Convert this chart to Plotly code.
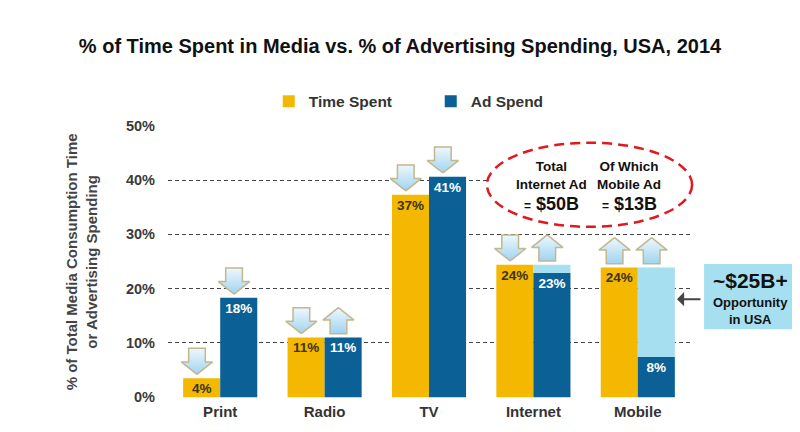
import plotly.graph_objects as go

# --- data ---
media = ["Print", "Radio", "TV", "Internet", "Mobile"]
time_spent = [3.5, 11.0, 37.3, 24.4, 23.9]
time_labels = ["4%", "11%", "37%", "24%", "24%"]
ad_spend = [18.3, 11.0, 40.6, 22.9, 7.4]
ad_labels = ["18%", "11%", "41%", "23%", "8%"]
ad_gap = [0, 0, 0, 1.5, 16.5]  # light blue "opportunity" on top of ad spend
time_dir = ["down", "down", "down", "down", "up"]
ad_dir = ["down", "up", "down", "up", "up"]
y_ticks = [0, 10, 20, 30, 40, 50]

YELLOW = "#f5b800"
BLUE = "#0b6196"
LIGHT = "#a6dff0"
FONT = "Liberation Sans"
BAR_W = 0.355

xs = list(range(len(media)))

fig = go.Figure()

fig.add_trace(go.Bar(
    x=xs, y=time_spent, name="Time Spent", width=BAR_W, offset=-BAR_W,
    marker=dict(color=YELLOW, line=dict(width=0)),
    text=time_labels, textposition="inside", insidetextanchor="end",
    textfont=dict(family=FONT, size=13.5, color="#3b3316", weight="bold"),
    hoverinfo="skip",
))
fig.add_trace(go.Bar(
    x=xs, y=ad_spend, name="Ad Spend", width=BAR_W, offset=0,
    marker=dict(color=BLUE, line=dict(width=0)),
    text=ad_labels, textposition="inside", insidetextanchor="end",
    textfont=dict(family=FONT, size=13.5, color="white", weight="bold"),
    hoverinfo="skip",
))
fig.add_trace(go.Bar(
    x=xs, y=ad_gap, base=ad_spend, width=BAR_W, offset=0,
    marker=dict(color=LIGHT, line=dict(width=0)),
    showlegend=False, hoverinfo="skip",
))


def arrow(cx, v, direction):
    # block arrow drawn just above a bar top (data units)
    gap, h, hh, hw, sw = 0.7, 4.8, 2.3, 0.15, 0.08
    b = v + gap
    xs_ = [cx, cx + hw, cx + sw, cx + sw, cx - sw, cx - sw, cx - hw, cx]
    if direction == "down":
        ys_ = [b, b + hh, b + hh, b + h, b + h, b + hh, b + hh, b]
    else:
        ys_ = [b + h, b + h - hh, b + h - hh, b, b, b + h - hh, b + h - hh, b + h]
    return go.Scatter(
        x=xs_, y=ys_, mode="lines", fill="toself",
        fillgradient=dict(type="vertical",
                          colorscale=[[0, "#9fd4f0"], [1, "#eef8fd"]]),
        line=dict(color="#c2b78e", width=1.5),
        showlegend=False, hoverinfo="skip",
    )


for i in xs:
    fig.add_trace(arrow(i - BAR_W / 2 - 0.045, time_spent[i], time_dir[i]))
    fig.add_trace(arrow(i + BAR_W / 2 - 0.045, ad_spend[i] + ad_gap[i], ad_dir[i]))

fig.update_layout(
    width=800, height=432,
    margin=dict(l=160, r=118, t=117, b=42),
    paper_bgcolor="white", plot_bgcolor="white",
    barmode="overlay",
    uniformtext=dict(minsize=13, mode="show"),
    title=dict(
        text="% of Time Spent in Media vs. % of Advertising Spending, USA, 2014",
        x=0.49, xref="container", y=0.912, yref="container", yanchor="middle",
        font=dict(family=FONT, size=20, color="#111", weight="bold"),
    ),
    legend=dict(
        orientation="h", x=0.193, y=1.085, xanchor="left", yanchor="middle",
        entrywidth=117, entrywidthmode="pixels",
        font=dict(family=FONT, size=15.5, color="#333", weight="bold"),
        bgcolor="rgba(0,0,0,0)",
    ),
    xaxis=dict(
        range=[-0.5, 4.5], tickvals=xs, ticktext=media,
        showgrid=False, zeroline=False, showline=False, ticks="",
        ticklabelstandoff=3,
        tickfont=dict(family=FONT, size=15, color="#333", weight="bold"),
    ),
    yaxis=dict(
        range=[-0.15, 50.15], tickvals=y_ticks,
        ticktext=[f"{v}%" for v in y_ticks],
        showgrid=True, gridcolor="#444", griddash="4px,3px", gridwidth=1,
        zeroline=False, showline=False, ticks="", ticklabelstandoff=12,
        tickfont=dict(family=FONT, size=14.5, color="#3a3a3a", weight="bold"),
    ),
    showlegend=True,
)

# y axis title
fig.add_annotation(
    text="% of Total Media Consumption Time<br>or Advertising Spending",
    xref="paper", yref="paper", x=-0.165, y=0.5, textangle=-90,
    xanchor="center", yanchor="middle", showarrow=False,
    font=dict(family=FONT, size=15, color="#444", weight="bold"),
)

# red dashed ellipse with internet / mobile ad totals (white inside hides grid)
fig.add_shape(
    type="circle", xref="paper", yref="paper", x0=0.611, x1=1.004, y0=0.627, y1=0.935,
    fillcolor="white", layer="above",
    line=dict(color="#e0191f", width=2.5, dash="10px,6px"),
)
for cx, head, amount in [(3.178, "Total<br>Internet Ad", "$50B"),
                         (3.916, "Of Which<br>Mobile Ad", "$13B")]:
    fig.add_annotation(
        text=head, xref="x", yref="y", x=cx, y=40.8, showarrow=False,
        xanchor="center", yanchor="middle",
        font=dict(family=FONT, size=13.5, color="#111", weight="bold"),
    )
    fig.add_annotation(
        text="<span style='font-size:12px'>=</span> " + amount,
        xref="x", yref="y", x=cx, y=35.6, showarrow=False,
        xanchor="center", yanchor="middle",
        font=dict(family=FONT, size=18, color="#111", weight="bold"),
    )

# opportunity call-out box
fig.add_shape(
    type="rect", xref="paper", yref="paper", x0=1.027, x1=1.203, y0=0.252, y1=0.491,
    fillcolor=LIGHT, line=dict(width=0), layer="below",
)
fig.add_annotation(
    text="~$25B+", xref="paper", yref="paper", x=1.115, y=0.43,
    xanchor="center", yanchor="middle", showarrow=False,
    font=dict(family=FONT, size=21, color="#111", weight="bold"),
)
fig.add_annotation(
    text="Opportunity<br>in USA", xref="paper", yref="paper", x=1.115, y=0.318,
    xanchor="center", yanchor="middle", showarrow=False,
    font=dict(family=FONT, size=13, color="#111", weight="bold"),
)
fig.add_annotation(
    text="", xref="paper", yref="paper", x=0.975, y=0.362,
    ax=25, ay=0, showarrow=True, arrowhead=1, arrowsize=1.2,
    arrowwidth=2, arrowcolor="#444",
)

fig.write_html("out.html")
